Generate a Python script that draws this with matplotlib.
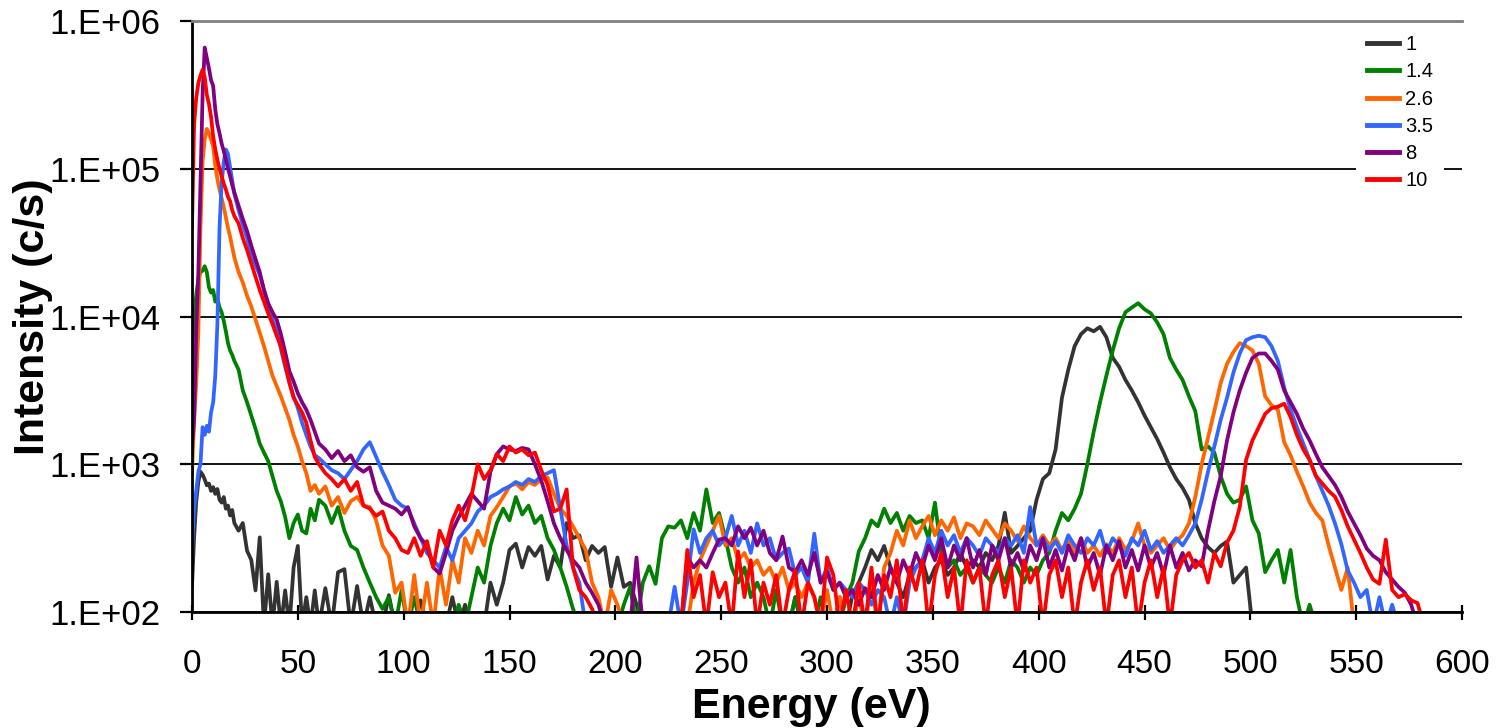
#!/usr/bin/env python

import matplotlib
matplotlib.use("Agg")
import matplotlib.pyplot as plt
import numpy as np
from matplotlib.ticker import FuncFormatter, NullLocator


plt.rcParams["font.family"] = ["Liberation Sans", "DejaVu Sans"]

# energy grid (eV): fine near the elastic peak, coarser after
ENERGY_LO = list(range(0, 21)) + list(range(22, 60, 2))
ENERGY_HI = list(range(60, 583, 3))

LABELS = ["1", "1.4", "2.6", "3.5", "8", "10"]
COLORS = ["#333333", "#008000", "#FF6600", "#3366FF", "#800080", "#FF0000"]

# intensities (c/s), 0-58 eV
S1_LO = [150, 320, 560, 760, 890, 850, 790, 720, 740, 660,
         700, 630, 680, 575, 550, 600, 500, 525, 450, 490, 400,
         355, 400, 260, 225, 140, 320, 80, 180, 80, 160,
         80, 140, 80, 200, 280, 80, 126, 80, 140]
S14_LO = [5370, 10000, 14000, 17800, 20000, 20400, 21900, 20000, 15800, 14500,
          15100, 12600, 13200, 11500, 10700, 9330, 7940, 6600, 5890, 5500, 5010,
          4370, 3160, 2630, 2140, 1740, 1380, 1200, 1050, 830, 660,
          560, 440, 316, 400, 457, 355, 340, 500, 417]
S26_LO = [870, 2000, 3550, 7940, 39800, 112000, 158000, 186000, 174000, 158000,
          141000, 105000, 85000, 72400, 63100, 55000, 46800, 39800, 34700, 29500, 25100,
          20000, 17000, 13800, 11700, 9550, 7760, 6310, 5010, 3980, 3390,
          2880, 2400, 2000, 1580, 1320, 1050, 870, 660, 724]
S35_LO = [263, 501, 660, 890, 1000, 1780, 1580, 1820, 1660, 2240,
          2630, 3980, 8910, 39800, 79400, 112000, 135000, 126000, 102000, 83200, 67600,
          52500, 41700, 33900, 26900, 22400, 19100, 15100, 12000, 9550, 7940,
          6030, 4570, 3630, 2880, 2400, 1910, 1580, 1320, 1150]
S8_LO = [1320, 2000, 7940, 20000, 79400, 316000, 661000, 562000, 479000, 398000,
         363000, 251000, 200000, 174000, 148000, 132000, 115000, 100000, 89100, 77600, 69200,
         56200, 45700, 38000, 30200, 24500, 20000, 15100, 12300, 10700, 9550,
         7590, 5750, 4270, 3630, 3020, 2630, 2340, 2000, 1660]
S10_LO = [39800, 200000, 302000, 380000, 427000, 468000, 417000, 316000, 275000, 224000,
          166000, 135000, 115000, 100000, 89100, 79400, 72400, 64600, 60300, 52500, 47900,
          42700, 33900, 28200, 22900, 18600, 15100, 12600, 10500, 8910, 7410,
          6310, 4790, 3550, 2820, 2510, 2240, 1910, 1450, 1120]

# intensities (c/s), 60-582 eV, one row per 30 eV
S1_HI = [80, 145, 80, 186, 195, 80, 150, 80, 126, 80,
         80, 130, 80, 80, 80, 80, 120, 80, 80, 80,
         80, 126, 80, 112, 80, 80, 80, 158, 112, 158,
         263, 290, 200, 275, 240, 280, 166, 240, 200, 400,
         316, 330, 224, 280, 251, 275, 148, 234, 148, 158,
         112, 80, 80, 80, 80, 80, 80, 80, 80, 80,
         80, 80, 80, 80, 80, 80, 80, 80, 80, 80,
         80, 80, 80, 80, 80, 126, 80, 80, 80, 80,
         80, 80, 126, 80, 130, 158, 200, 263, 224, 280,
         200, 158, 126, 178, 200, 224, 158, 200, 224, 178,
         200, 251, 200, 224, 200, 251, 224, 280, 470, 251,
         280, 316, 355, 575, 794, 870, 1260, 2820, 4370, 6310,
         7590, 8320, 7940, 8510, 7240, 5250, 4570, 3720, 3160, 2630,
         2140, 1780, 1480, 1200, 955, 794, 692, 575, 400, 316,
         275, 251, 280, 300, 158, 178, 200, 80, 80]
S14_HI = [575, 525, 400, 513, 355, 280, 263, 200, 158, 126,
          105, 126, 80, 141, 80, 126, 80, 80, 80, 80,
          80, 80, 112, 80, 126, 200, 158, 280, 400, 500,
          417, 600, 457, 525, 400, 447, 316, 263, 200, 148,
          105, 80, 80, 80, 80, 80, 80, 80, 112, 148,
          80, 158, 204, 155, 316, 380, 372, 417, 316, 468,
          355, 676, 400, 468, 316, 200, 158, 200, 126, 158,
          126, 80, 141, 80, 80, 126, 80, 80, 80, 126,
          80, 80, 80, 126, 158, 257, 316, 417, 380, 500,
          400, 468, 355, 447, 400, 417, 316, 550, 251, 200,
          224, 178, 200, 158, 200, 178, 158, 200, 158, 224,
          200, 158, 200, 178, 224, 251, 355, 468, 417, 500,
          631, 1000, 1660, 2630, 3980, 5890, 8320, 10700, 11500, 12300,
          11200, 10500, 9120, 7590, 5250, 4370, 3720, 2880, 2290, 1260,
          1320, 1200, 830, 631, 550, 575, 708, 417, 340, 186,
          224, 263, 158, 263, 126, 80, 112, 80]
S26_HI = [631, 708, 525, 600, 468, 562, 600, 525, 513, 417,
          282, 240, 135, 158, 80, 178, 80, 158, 80, 200,
          112, 224, 158, 316, 251, 355, 282, 447, 513, 600,
          708, 741, 676, 759, 724, 794, 813, 631, 501, 447,
          380, 316, 263, 158, 126, 80, 141, 112, 80, 80,
          80, 80, 80, 80, 80, 80, 80, 80, 80, 158,
          224, 282, 355, 447, 282, 316, 224, 251, 200, 224,
          178, 200, 158, 200, 141, 158, 126, 158, 126, 80,
          141, 80, 126, 80, 80, 126, 80, 158, 80, 200,
          251, 355, 282, 417, 316, 380, 447, 331, 417, 355,
          437, 316, 398, 380, 331, 417, 363, 316, 398, 355,
          302, 380, 316, 282, 331, 282, 316, 263, 302, 251,
          316, 251, 282, 240, 288, 251, 316, 263, 302, 398,
          282, 251, 282, 316, 263, 302, 331, 398, 600, 1000,
          1510, 2290, 3550, 4790, 5750, 6610, 6310, 5890, 4790, 2880,
          2510, 2340, 1410, 1150, 890, 708, 550, 468, 417, 282,
          200, 141, 200, 80]
S35_HI = [1100, 1000, 912, 870, 794, 912, 1050, 1260, 1410, 1120,
          890, 724, 575, 525, 501, 398, 316, 251, 224, 200,
          275, 224, 316, 355, 398, 479, 525, 600, 631, 676,
          708, 759, 724, 794, 759, 832, 870, 912, 501, 282,
          200, 158, 80, 80, 80, 80, 80, 80, 80, 80,
          80, 80, 80, 80, 80, 80, 148, 80, 158, 363,
          251, 316, 355, 282, 316, 447, 282, 355, 251, 398,
          282, 316, 224, 251, 269, 178, 200, 158, 339, 158,
          200, 141, 158, 141, 126, 158, 141, 112, 141, 126,
          80, 126, 80, 158, 200, 224, 316, 251, 355, 282,
          331, 251, 316, 282, 240, 316, 282, 251, 316, 282,
          331, 251, 513, 282, 316, 263, 302, 251, 331, 282,
          251, 316, 282, 355, 251, 316, 282, 240, 316, 282,
          355, 263, 302, 251, 282, 316, 282, 331, 398, 575,
          890, 1320, 2000, 2820, 4170, 5620, 6920, 7240, 7410, 7240,
          6310, 5010, 3310, 2340, 1780, 1380, 1070, 832, 660, 525,
          398, 288, 191, 158, 126, 141, 80, 126, 80, 112,
          80]
S8_HI = [1380, 1260, 1100, 1230, 1050, 1150, 955, 890, 955, 660,
         550, 525, 501, 457, 513, 380, 316, 282, 200, 182,
         251, 355, 437, 525, 631, 562, 501, 890, 1170, 1320,
         1260, 1230, 1290, 1260, 1000, 776, 562, 398, 316, 263,
         224, 200, 158, 135, 112, 80, 80, 80, 80, 80,
         234, 80, 80, 80, 80, 80, 80, 80, 234, 200,
         224, 200, 251, 309, 316, 282, 380, 316, 372, 282,
         355, 251, 224, 324, 200, 186, 224, 178, 251, 158,
         186, 141, 158, 126, 141, 112, 145, 126, 178, 141,
         200, 158, 224, 178, 251, 200, 282, 224, 316, 200,
         282, 224, 316, 200, 263, 178, 282, 224, 316, 200,
         251, 191, 282, 224, 316, 200, 263, 191, 282, 224,
         316, 200, 251, 178, 282, 224, 302, 200, 263, 191,
         282, 200, 251, 178, 282, 200, 251, 191, 224, 204,
         355, 562, 832, 1450, 2240, 3160, 4170, 5250, 5620, 5620,
         5010, 4370, 3160, 2630, 2190, 1740, 1450, 1170, 955, 832,
         724, 603, 479, 398, 331, 269, 240, 224, 186, 166,
         148, 135, 112, 80]
S10_HI = [1000, 870, 794, 708, 794, 660, 759, 525, 501, 447,
          479, 355, 316, 263, 251, 316, 240, 302, 200, 355,
          282, 417, 525, 417, 603, 1000, 794, 912, 1170, 1050,
          1320, 1200, 1260, 1150, 1200, 912, 724, 479, 501, 676,
          200, 141, 126, 105, 80, 80, 80, 80, 80, 80,
          80, 80, 80, 80, 80, 80, 80, 80, 263, 126,
          178, 80, 186, 126, 158, 80, 257, 126, 224, 80,
          158, 112, 178, 80, 141, 191, 80, 158, 126, 80,
          234, 178, 80, 141, 80, 158, 80, 200, 80, 178,
          126, 224, 80, 200, 141, 224, 80, 178, 251, 126,
          200, 80, 224, 158, 200, 80, 178, 224, 126, 200,
          80, 224, 158, 200, 80, 178, 224, 126, 200, 80,
          158, 224, 141, 200, 80, 178, 224, 126, 200, 80,
          158, 224, 126, 200, 80, 178, 224, 251, 200, 224,
          158, 251, 204, 295, 355, 513, 1070, 1450, 1780, 2190,
          2400, 2450, 2570, 2090, 1580, 1260, 1070, 832, 741, 660,
          603, 490, 380, 309, 251, 200, 166, 155, 309, 141,
          126, 132, 120, 115, 80]


energy = np.array(ENERGY_LO + ENERGY_HI, dtype=float)


def series(lo, hi):
    # series stop where the measurement stops: pad the tail with NaN
    hi = list(hi) + [np.nan] * (len(ENERGY_HI) - len(hi))
    return np.array(list(lo) + hi, dtype=float)


spectra = [
    series(S1_LO, S1_HI),
    series(S14_LO, S14_HI),
    series(S26_LO, S26_HI),
    series(S35_LO, S35_HI),
    series(S8_LO, S8_HI),
    series(S10_LO, S10_HI),
]


fig = plt.figure(figsize=(15.08, 7.28), dpi=100)
ax = fig.add_axes([192 / 1508, 116 / 728, 1270 / 1508, 591 / 728])

for values, label, color in zip(spectra, LABELS, COLORS):
    ax.plot(energy, values, color=color, lw=2.7, label=label)

ax.set_yscale("log")
ax.set_ylim(1e2, 1e6)
ax.set_xlim(0, 600)
ax.set_xticks(np.arange(0, 601, 50))
ax.set_yticks([1e2, 1e3, 1e4, 1e5, 1e6])
ax.yaxis.set_minor_locator(NullLocator())
ax.yaxis.set_major_formatter(FuncFormatter(lambda v, p: "1.E+%02d" % round(np.log10(v))))

ax.set_axisbelow(True)
ax.yaxis.grid(True, color="black", lw=1.3)

ax.spines["right"].set_visible(False)
ax.spines["top"].set_color("#808080")
ax.spines["top"].set_linewidth(2)
ax.spines["left"].set_linewidth(2)
ax.spines["bottom"].set_linewidth(2)

ax.tick_params(axis="x", direction="inout", length=10.8, width=1.6, pad=21, labelsize=24)
ax.tick_params(axis="y", direction="out", length=8.6, width=1.6, pad=14, labelsize=25)

fig.text(811.5 / 1508, 0.014, "Energy (eV)", ha="center", va="baseline",
         fontsize=31, fontweight="bold")
fig.text(33 / 1508, 1 - 317 / 728, "Intensity (c/s)", ha="center", va="center",
         rotation=90, fontsize=31, fontweight="bold")

leg = ax.legend(loc="upper left", bbox_to_anchor=(1356 / 1508, 1 - 24 / 728),
                bbox_transform=fig.transFigure, fontsize=14.5, frameon=True,
                fancybox=False, edgecolor="none", facecolor="white", framealpha=1,
                handlelength=1.6, handletextpad=0.3, labelspacing=0.41,
                borderpad=0.55, borderaxespad=0)
for line in leg.get_lines():
    line.set_linewidth(3.5)

plt.savefig("out.png", dpi=100)
